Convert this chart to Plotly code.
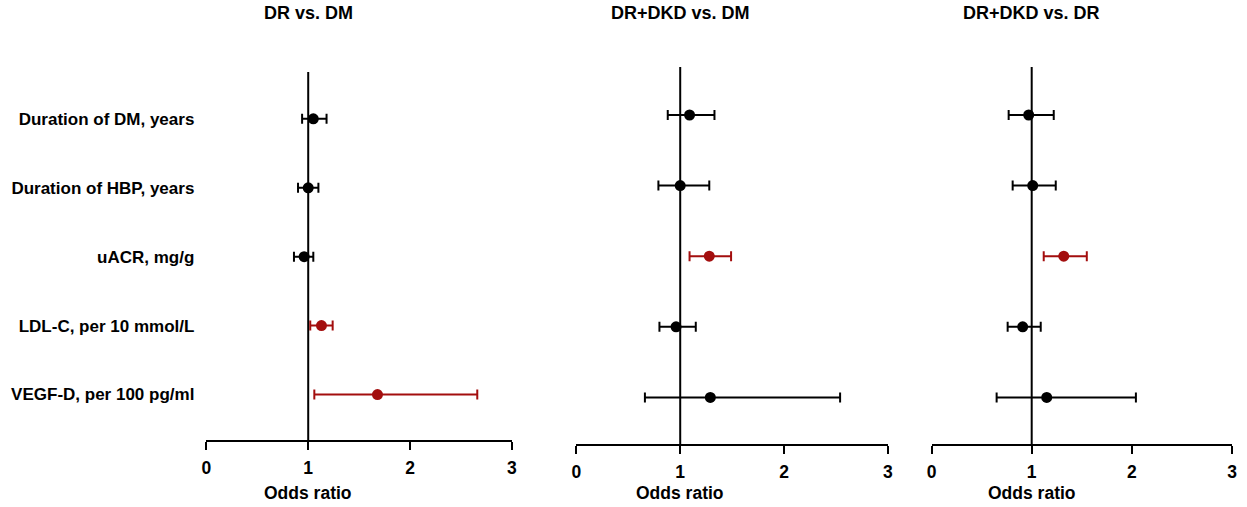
import plotly.graph_objects as go

labels = ["Duration of DM, years", "Duration of HBP, years", "uACR, mg/g",
          "LDL-C, per 10 mmol/L", "VEGF-D, per 100 pg/ml"]

titles = ["DR vs. DM", "DR+DKD vs. DM", "DR+DKD vs. DR"]

dr_dm_or = [1.05, 1.00, 0.96, 1.13, 1.68]
dr_dm_lo = [0.94, 0.90, 0.86, 1.02, 1.06]
dr_dm_hi = [1.18, 1.10, 1.05, 1.24, 2.66]
dr_dm_sig = [False, False, False, True, True]

dkd_dm_or = [1.09, 1.00, 1.28, 0.96, 1.29]
dkd_dm_lo = [0.88, 0.79, 1.09, 0.80, 0.66]
dkd_dm_hi = [1.33, 1.28, 1.49, 1.15, 2.54]
dkd_dm_sig = [False, False, True, False, False]

dkd_dr_or = [0.97, 1.01, 1.32, 0.91, 1.15]
dkd_dr_lo = [0.77, 0.81, 1.12, 0.76, 0.65]
dkd_dr_hi = [1.22, 1.24, 1.55, 1.09, 2.04]
dkd_dr_sig = [False, False, True, False, False]

x_ticks = [0, 1, 2, 3]
x_title = "Odds ratio"

panels = [
    (dr_dm_or, dr_dm_lo, dr_dm_hi, dr_dm_sig),
    (dkd_dm_or, dkd_dm_lo, dkd_dm_hi, dkd_dm_sig),
    (dkd_dr_or, dkd_dr_lo, dkd_dr_hi, dkd_dr_sig),
]

W, H = 1247, 507
BLACK = "#000000"
RED = "#A30E0E"
FONT = "Liberation Sans, Arial, sans-serif"

# pixel geometry per panel: (x_left, x_right, y_top, y_bottom)
geom = [(203, 511, 72, 440), (576, 890, 67, 444), (934, 1237, 67, 444)]

fig = go.Figure()

for i, (orv, lo, hi, sig) in enumerate(panels):
    sfx = "" if i == 0 else str(i + 1)
    for flag, col in [(False, BLACK), (True, RED)]:
        idx = [k for k in range(len(labels)) if sig[k] == flag]
        if not idx:
            continue
        fig.add_trace(go.Scatter(
            x=[orv[k] for k in idx],
            y=[labels[k] for k in idx],
            mode="markers",
            marker=dict(color=col, size=11),
            error_x=dict(type="data", symmetric=False,
                         array=[hi[k] - orv[k] for k in idx],
                         arrayminus=[orv[k] - lo[k] for k in idx],
                         color=col, thickness=2, width=5),
            xaxis="x" + sfx, yaxis="y" + sfx, showlegend=False,
            cliponaxis=False,
        ))
    xl, xr, yt, yb = geom[i]
    fig.update_layout(**{
        "xaxis" + sfx: dict(
            domain=[xl / W, xr / W], range=[0, 3], anchor="y" + sfx,
            tickvals=x_ticks, showline=True, linecolor=BLACK, linewidth=2,
            ticks="outside", ticklen=8, tickwidth=2, tickcolor=BLACK,
            showgrid=False, zeroline=False, ticklabelstandoff=3,
            tickfont=dict(family=FONT, size=17.5, color=BLACK, weight="bold"),
        ),
        "yaxis" + sfx: dict(
            domain=[1 - yb / H, 1 - yt / H], anchor="x" + sfx,
            type="category", categoryorder="array", categoryarray=labels,
            range=[4.66, -0.68], showline=False, showgrid=False,
            zeroline=False, ticks="", showticklabels=(i == 0),
            ticklabelstandoff=11,
            tickfont=dict(family=FONT, size=17, color=BLACK, weight="bold"),
        ),
    })
    fig.add_shape(type="line", xref="x" + sfx, yref="y" + sfx + " domain",
                  x0=1, x1=1, y0=0, y1=1, layer="below",
                  line=dict(color=BLACK, width=2))
    fig.add_annotation(text=titles[i], xref="x" + sfx, yref="paper",
                       x=1, y=1 - 13 / H, yanchor="middle", showarrow=False,
                       font=dict(family=FONT, size=18, color=BLACK, weight="bold"))
    fig.add_annotation(text=x_title, xref="x" + sfx, yref="paper",
                       x=1, y=1 - 493 / H, yanchor="middle", showarrow=False,
                       font=dict(family=FONT, size=17.5, color=BLACK, weight="bold"))

fig.update_layout(
    width=W, height=H, margin=dict(l=0, r=0, t=0, b=0),
    paper_bgcolor="white", plot_bgcolor="white",
)

fig.write_html("out.html",
               config={"displayModeBar": False},
               post_script="document.body.style.margin='0';"
                           "document.body.style.padding='0';"
                           "document.body.style.overflow='hidden';")
